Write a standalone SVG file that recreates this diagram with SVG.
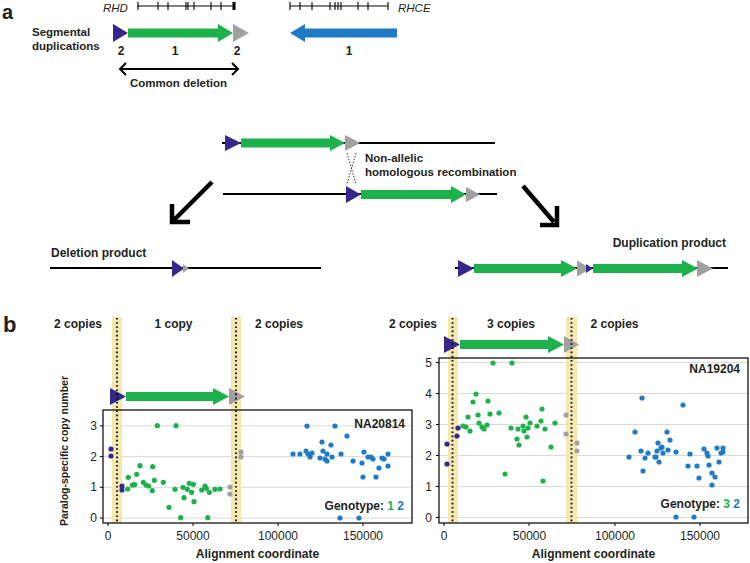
<svg xmlns="http://www.w3.org/2000/svg" width="750" height="563" viewBox="0 0 750 563">
<style>
text{font-family:"Liberation Sans",Arial,sans-serif;fill:#231F20}
.b{font-weight:bold;font-size:12px}
.pl{font-weight:bold;font-size:22px}
.it{font-style:italic;font-size:11.5px}
.t{font-size:12px}
.gl{stroke:#000;stroke-width:1.1;fill:none}
.ln{stroke:#000;stroke-width:2.2}
.nv{fill:#35288A}
.gr{fill:#1DB14B}
.gy{fill:#A0A0A0}
.bl{fill:#1F7BC3}
.band{fill:#F4E8AE}
.dot{stroke:#000;stroke-width:1.8;stroke-dasharray:1.6 2.6}
.grid{stroke:#D9D9D9;stroke-width:1}
.box{fill:none;stroke:#000;stroke-width:1.2}
.big{stroke:#000;stroke-width:4.5;fill:none}
</style>

<!-- Panel a -->
<g id="panel-a">
<text class="pl" x="2" y="19" style="font-size:20px">a</text>
<g id="gene-rhd">
<text class="it" x="103" y="12">RHD</text>
<path class="gl" d="M137,6H235M138,2V10M158,2V10M168,2V10M186,2V10M188,2V10M194,2V10M211,2V10M221,2V10"/>
<rect x="232.5" y="2" width="3" height="8" fill="#000"/>
</g>
<g id="gene-rhce">
<text class="it" x="398" y="12">RHCE</text>
<path class="gl" d="M290,6H388M290,2V10M300,2V10M312,2V10M330,2V10M335,2V10M338,2V10M341,2V10M358,2V10M368,2V10M388,2V10"/>
</g>
<g id="segdup">
<text class="b" x="32" y="36" style="font-size:11.5px">Segmental</text>
<text class="b" x="32" y="50" style="font-size:11.5px">duplications</text>
<polygon class="nv" points="113,24 113,42 128,33"/>
<polygon class="gr" points="128,28.5 218,28.5 218,24 233,33 218,42 218,37.5 128,37.5"/>
<polygon class="gy" points="233,24 233,42 249,33"/>
<text class="b" x="121" y="55" text-anchor="middle">2</text>
<text class="b" x="175" y="55" text-anchor="middle">1</text>
<text class="b" x="237" y="55" text-anchor="middle">2</text>
</g>
<g id="rhce-arrow">
<polygon class="bl" points="397,28.5 305,28.5 305,24 290,33 305,42 305,37.5 397,37.5"/>
<text class="b" x="349" y="55" text-anchor="middle">1</text>
</g>
<g id="common-deletion">
<path d="M120,69H238M126,63L120,69L126,75M232,63L238,69L232,75" stroke="#000" stroke-width="2" fill="none"/>
<text class="b" x="178.5" y="87" text-anchor="middle" style="font-size:11.5px">Common deletion</text>
</g>
<g id="chrom-top">
<line class="ln" x1="222" y1="143" x2="495" y2="143"/>
<polygon class="nv" points="225,135 225,151 241,143"/>
<polygon class="gr" points="241,138.5 330,138.5 330,135 345,143 330,151 330,147.5 241,147.5"/>
<polygon class="gy" points="345,135 345,151 360,143"/>
</g>
<g id="nahr">
<path d="M347,153L356,184M356,153L347,184" stroke="#000" stroke-width="0.8" stroke-dasharray="1.5 1.5" fill="none"/>
<text class="b" x="365" y="162" style="font-size:11.5px">Non-allelic</text>
<text class="b" x="365" y="176" style="font-size:11.5px">homologous recombination</text>
</g>
<g id="chrom-bottom">
<line class="ln" x1="223" y1="194" x2="497" y2="194"/>
<polygon class="nv" points="346,186 346,203 361,194.5"/>
<polygon class="gr" points="361,190 451,190 451,186 466,194.5 451,203 451,199 361,199"/>
<polygon class="gy" points="466,187 466,202 480,194.5"/>
</g>
<g id="connectors">
<line class="big" x1="212" y1="182" x2="174" y2="220"/>
<polyline class="big" points="172,204 172,222 190,222" stroke-linejoin="miter"/>
<line class="big" x1="523" y1="186" x2="554" y2="222"/>
<polyline class="big" points="557,206 557,225 540,225" stroke-linejoin="miter"/>
</g>
<g id="deletion-product">
<text class="b" x="51" y="257">Deletion product</text>
<line class="ln" x1="50" y1="268" x2="321" y2="268"/>
<polygon class="nv" points="172,260 172,277 184,268.5"/>
<polygon class="gy" points="183,264 183,273 189,268.5"/>
</g>
<g id="duplication-product">
<text class="b" x="726" y="247" text-anchor="end">Duplication product</text>
<line class="ln" x1="455" y1="268" x2="728" y2="268"/>
<polygon class="nv" points="458,260 458,277 474,268.5"/>
<polygon class="gr" points="474,264 561,264 561,260 577,268.5 561,277 561,273 474,273"/>
<polygon class="gy" points="577,260.5 577,276.5 591,268.5"/>
<polygon class="nv" points="586,264 586,273 593,268.5"/>
<polygon class="gr" points="593,264 682,264 682,260 698,268.5 682,277 682,273 593,273"/>
<polygon class="gy" points="697,260 697,277 713,268.5"/>
</g>
</g>

<!-- Panel b -->
<g id="panel-b">
<text class="pl" x="3" y="332">b</text>

<g id="plot-left">
<text class="b" x="78" y="328" text-anchor="middle">2 copies</text>
<text class="b" x="173.5" y="328" text-anchor="middle">1 copy</text>
<text class="b" x="279" y="328" text-anchor="middle">2 copies</text>
<path class="grid" d="M103,518H412M103,487.3H412M103,456.6H412M103,425.9H412"/>
<rect class="band" x="112" y="317" width="10" height="206"/>
<rect class="band" x="231" y="317" width="10" height="206"/>
<polygon class="nv" points="110,388 110,405 126,396.5"/>
<polygon class="gr" points="126,392 213,392 213,388 229,396.5 213,405 213,401 126,401"/>
<polygon class="gy" points="229,388 229,405 245,396.5"/>
<line class="dot" x1="117" y1="318" x2="117" y2="523"/>
<line class="dot" x1="236" y1="318" x2="236" y2="523"/>
<rect class="box" x="103" y="410" width="309" height="113"/>
<path d="M100,518H103M100,487.3H103M100,456.6H103M100,425.9H103M108,523V526M193,523V526M278,523V526M363,523V526" stroke="#000" stroke-width="1"/>
<g class="t">
<text x="97" y="522" text-anchor="end">0</text>
<text x="97" y="491.3" text-anchor="end">1</text>
<text x="97" y="460.6" text-anchor="end">2</text>
<text x="97" y="429.9" text-anchor="end">3</text>
<text x="108" y="540" text-anchor="middle">0</text>
<text x="193" y="540" text-anchor="middle">50000</text>
<text x="278" y="540" text-anchor="middle">100000</text>
<text x="363" y="540" text-anchor="middle">150000</text>
</g>
<text class="b" x="257.5" y="558" text-anchor="middle">Alignment coordinate</text>
<text class="b" x="68" y="451" text-anchor="middle" transform="rotate(-90 68 451)" style="font-size:10.5px">Paralog-specific copy number</text>
<text class="b" x="405" y="428" text-anchor="end">NA20814</text>
<text class="b" x="404" y="510" text-anchor="end">Genotype: <tspan fill="#1DB14B">1</tspan> <tspan fill="#1F7BC3">2</tspan></text>
<g>
<g class="nv"><circle cx="111" cy="449" r="2.6"/><circle cx="111" cy="456" r="2.6"/><circle cx="122" cy="486" r="2.6"/><circle cx="122" cy="490" r="2.6"/></g>
<g class="gy"><circle cx="230" cy="487" r="2.6"/><circle cx="230" cy="494" r="2.6"/><circle cx="241" cy="452" r="2.6"/><circle cx="241" cy="457" r="2.6"/></g>
<g class="gr">
<circle cx="128.3" cy="477.3" r="2.6"/><circle cx="127.7" cy="489" r="2.6"/><circle cx="132.3" cy="485" r="2.6"/><circle cx="134.7" cy="484.7" r="2.6"/><circle cx="136.7" cy="474.3" r="2.6"/><circle cx="140" cy="465.7" r="2.6"/><circle cx="143.3" cy="482.3" r="2.6"/><circle cx="146" cy="485" r="2.6"/><circle cx="148.7" cy="486" r="2.6"/><circle cx="152.3" cy="490.7" r="2.6"/><circle cx="152.7" cy="466.7" r="2.6"/><circle cx="154.3" cy="480.3" r="2.6"/><circle cx="163.3" cy="482.3" r="2.6"/><circle cx="157.3" cy="425.7" r="2.6"/><circle cx="176" cy="425.7" r="2.6"/><circle cx="175" cy="489.3" r="2.6"/><circle cx="169" cy="507.3" r="2.6"/><circle cx="180.7" cy="517.7" r="2.6"/><circle cx="183" cy="487.3" r="2.6"/><circle cx="184" cy="497.7" r="2.6"/><circle cx="187.3" cy="489.3" r="2.6"/><circle cx="189.3" cy="483.3" r="2.6"/><circle cx="191.7" cy="492.3" r="2.6"/><circle cx="193.3" cy="484.3" r="2.6"/><circle cx="194" cy="501.7" r="2.6"/><circle cx="201.7" cy="490" r="2.6"/><circle cx="205" cy="486" r="2.6"/><circle cx="206.3" cy="488.3" r="2.6"/><circle cx="207.7" cy="517.7" r="2.6"/><circle cx="209.3" cy="492.3" r="2.6"/><circle cx="215" cy="489.3" r="2.6"/><circle cx="220" cy="489" r="2.6"/>
</g>
<g class="bl">
<circle cx="293" cy="454" r="2.6"/><circle cx="300" cy="454" r="2.6"/><circle cx="306" cy="451" r="2.6"/><circle cx="307" cy="426" r="2.6"/><circle cx="308" cy="454" r="2.6"/><circle cx="310" cy="457" r="2.6"/><circle cx="312" cy="453" r="2.6"/><circle cx="320" cy="458" r="2.6"/><circle cx="322" cy="442" r="2.6"/><circle cx="323" cy="451" r="2.6"/><circle cx="325" cy="459" r="2.6"/><circle cx="327" cy="461" r="2.6"/><circle cx="327" cy="454" r="2.6"/><circle cx="331" cy="445" r="2.6"/><circle cx="332" cy="457" r="2.6"/><circle cx="335" cy="426" r="2.6"/><circle cx="341" cy="454" r="2.6"/><circle cx="347" cy="436" r="2.6"/><circle cx="353" cy="461" r="2.6"/><circle cx="362" cy="463" r="2.6"/><circle cx="363" cy="477" r="2.6"/><circle cx="364" cy="452" r="2.6"/><circle cx="368" cy="457" r="2.6"/><circle cx="371" cy="457" r="2.6"/><circle cx="373" cy="459" r="2.6"/><circle cx="376" cy="477" r="2.6"/><circle cx="379" cy="468" r="2.6"/><circle cx="382" cy="458" r="2.6"/><circle cx="384" cy="459" r="2.6"/><circle cx="388" cy="454" r="2.6"/><circle cx="388" cy="466" r="2.6"/><circle cx="340" cy="518" r="2.6"/><circle cx="359" cy="518" r="2.6"/>
</g>
</g>
</g>

<g id="plot-right">
<text class="b" x="413" y="328" text-anchor="middle">2 copies</text>
<text class="b" x="511" y="328" text-anchor="middle">3 copies</text>
<text class="b" x="614.5" y="328" text-anchor="middle">2 copies</text>
<path class="grid" d="M439,517.5H748M439,486.5H748M439,455.5H748M439,424.5H748M439,393.5H748M439,362.5H748"/>
<rect class="band" x="448" y="317" width="10" height="206"/>
<rect class="band" x="566" y="317" width="11" height="206"/>
<polygon class="nv" points="444,336 444,353 460,344.5"/>
<polygon class="gr" points="460,340 548,340 548,336 564,344.5 548,353 548,349 460,349"/>
<polygon class="gy" points="564,336 564,353 579,344.5"/>
<line class="dot" x1="452.5" y1="318" x2="452.5" y2="523"/>
<line class="dot" x1="571.5" y1="318" x2="571.5" y2="523"/>
<rect class="box" x="439" y="358" width="309" height="165"/>
<path d="M436,517.5H439M436,486.5H439M436,455.5H439M436,424.5H439M436,393.5H439M436,362.5H439M444,523V526M529,523V526M615,523V526M700,523V526" stroke="#000" stroke-width="1"/>
<g class="t">
<text x="432" y="521.5" text-anchor="end">0</text>
<text x="432" y="490.5" text-anchor="end">1</text>
<text x="432" y="459.5" text-anchor="end">2</text>
<text x="432" y="428.5" text-anchor="end">3</text>
<text x="432" y="397.5" text-anchor="end">4</text>
<text x="432" y="366.5" text-anchor="end">5</text>
<text x="444" y="540" text-anchor="middle">0</text>
<text x="529.5" y="540" text-anchor="middle">50000</text>
<text x="615" y="540" text-anchor="middle">100000</text>
<text x="700" y="540" text-anchor="middle">150000</text>
</g>
<text class="b" x="593.5" y="558" text-anchor="middle">Alignment coordinate</text>
<text class="b" x="740" y="373" text-anchor="end">NA19204</text>
<text class="b" x="740" y="508" text-anchor="end">Genotype: <tspan fill="#1DB14B">3</tspan> <tspan fill="#1F7BC3">2</tspan></text>
<g>
<g class="nv"><circle cx="447" cy="444" r="2.6"/><circle cx="447" cy="464" r="2.6"/><circle cx="457" cy="436" r="2.6"/><circle cx="458" cy="428" r="2.6"/></g>
<g class="gy"><circle cx="566" cy="415" r="2.6"/><circle cx="566" cy="434" r="2.6"/><circle cx="577" cy="443" r="2.6"/><circle cx="577" cy="451" r="2.6"/></g>
<g class="gr">
<circle cx="493" cy="363" r="2.6"/><circle cx="512" cy="363" r="2.6"/><circle cx="476" cy="394" r="2.6"/><circle cx="473" cy="402" r="2.6"/><circle cx="488" cy="401" r="2.6"/><circle cx="468" cy="417" r="2.6"/><circle cx="478" cy="415" r="2.6"/><circle cx="490" cy="414" r="2.6"/><circle cx="499" cy="413" r="2.6"/><circle cx="463" cy="426" r="2.6"/><circle cx="466" cy="427" r="2.6"/><circle cx="470" cy="431" r="2.6"/><circle cx="479" cy="423" r="2.6"/><circle cx="482" cy="427" r="2.6"/><circle cx="484" cy="429" r="2.6"/><circle cx="487" cy="425" r="2.6"/><circle cx="511" cy="428" r="2.6"/><circle cx="517" cy="439" r="2.6"/><circle cx="519" cy="445" r="2.6"/><circle cx="518" cy="429" r="2.6"/><circle cx="523" cy="426" r="2.6"/><circle cx="524" cy="431" r="2.6"/><circle cx="526" cy="417" r="2.6"/><circle cx="527" cy="437" r="2.6"/><circle cx="528" cy="428" r="2.6"/><circle cx="530" cy="423" r="2.6"/><circle cx="537" cy="426" r="2.6"/><circle cx="541" cy="421" r="2.6"/><circle cx="542" cy="409" r="2.6"/><circle cx="545" cy="429" r="2.6"/><circle cx="551" cy="447" r="2.6"/><circle cx="555" cy="423" r="2.6"/><circle cx="505" cy="474" r="2.6"/><circle cx="543" cy="481" r="2.6"/>
</g>
<g class="bl">
<circle cx="629" cy="457" r="2.6"/><circle cx="635" cy="432" r="2.6"/><circle cx="641" cy="451" r="2.6"/><circle cx="643" cy="471" r="2.6"/><circle cx="645" cy="458" r="2.6"/><circle cx="648" cy="453" r="2.6"/><circle cx="655" cy="457" r="2.6"/><circle cx="657" cy="451" r="2.6"/><circle cx="658" cy="443" r="2.6"/><circle cx="659" cy="462" r="2.6"/><circle cx="661" cy="448" r="2.6"/><circle cx="663" cy="453" r="2.6"/><circle cx="667" cy="432" r="2.6"/><circle cx="668" cy="450" r="2.6"/><circle cx="670" cy="440" r="2.6"/><circle cx="676" cy="452" r="2.6"/><circle cx="688" cy="466" r="2.6"/><circle cx="690" cy="454" r="2.6"/><circle cx="697" cy="466" r="2.6"/><circle cx="699" cy="478" r="2.6"/><circle cx="704" cy="449" r="2.6"/><circle cx="707" cy="453" r="2.6"/><circle cx="708" cy="456" r="2.6"/><circle cx="709" cy="465" r="2.6"/><circle cx="712" cy="473" r="2.6"/><circle cx="715" cy="477" r="2.6"/><circle cx="712" cy="485" r="2.6"/><circle cx="717" cy="448" r="2.6"/><circle cx="719" cy="462" r="2.6"/><circle cx="721" cy="453" r="2.6"/><circle cx="723" cy="448" r="2.6"/><circle cx="723" cy="452" r="2.6"/><circle cx="676" cy="517" r="2.6"/><circle cx="694" cy="517" r="2.6"/><circle cx="642" cy="398" r="2.6"/><circle cx="683" cy="405" r="2.6"/><circle cx="662" cy="447" r="2.6"/><circle cx="656" cy="457" r="2.6"/>
</g>
</g>
</g>
</g>
</svg>
